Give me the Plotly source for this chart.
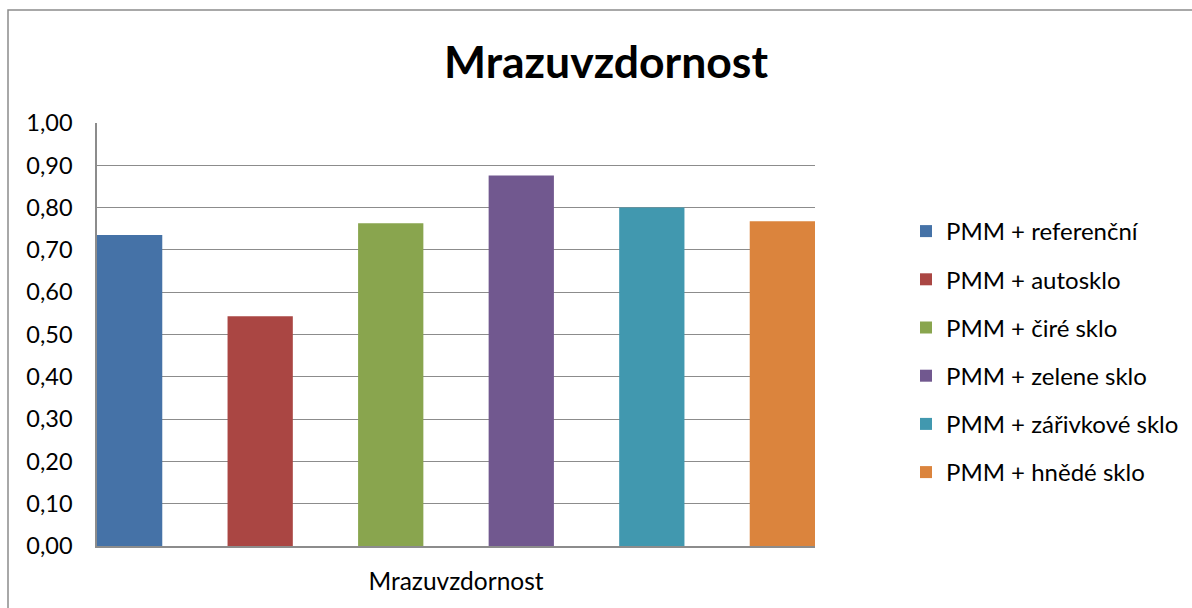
import plotly.graph_objects as go

# Data
category = ["Mrazuvzdornost"]
series_names = [
    "PMM + referenční",
    "PMM + autosklo",
    "PMM + čiré sklo",
    "PMM + zelene sklo",
    "PMM + zářivkové sklo",
    "PMM + hnědé sklo",
]
series_values = [0.735, 0.543, 0.763, 0.876, 0.800, 0.768]
series_colors = ["#4572A7", "#AA4643", "#89A54E", "#71588F", "#4198AF", "#DB843D"]
y_ticks = [0.0, 0.1, 0.2, 0.3, 0.4, 0.5, 0.6, 0.7, 0.8, 0.9, 1.0]
y_tick_labels = ["0,00", "0,10", "0,20", "0,30", "0,40", "0,50",
                 "0,60", "0,70", "0,80", "0,90", "1,00"]

FONT = "Lato, Carlito, Calibri, sans-serif"
W, H = 1192, 608
L, R, T, B = 97, 1192 - 815, 123, 608 - 546

fig = go.Figure()
for i, (name, val, col) in enumerate(zip(series_names, series_values, series_colors)):
    fig.add_trace(go.Bar(
        x=category, y=[val], name=name,
        marker=dict(color=col, line=dict(width=0)),
        legendgroup=f"g{i}",
        hovertemplate="%{y:.2f}<extra>" + name + "</extra>",
    ))

# chart frame (extends past the right and bottom edges)
pw, ph = W - L - R, H - T - B
def px_x(x): return (x - L) / pw
def px_y(y): return (H - B - y) / ph

fig.add_shape(type="rect", xref="paper", yref="paper",
              x0=px_x(8), x1=px_x(1250), y0=px_y(650), y1=px_y(10),
              line=dict(color="#8C8C8C", width=1.5), fillcolor="rgba(0,0,0,0)",
              layer="below")

fig.update_layout(
    width=W, height=H,
    margin=dict(l=L, r=R, t=T, b=B),
    paper_bgcolor="white", plot_bgcolor="white",
    barmode="group", bargap=0, bargroupgap=0.5,
    font=dict(family=FONT, size=23, color="#000000"),
    title=dict(text="<b>Mrazuvzdornost</b>", font=dict(family=FONT, size=44.5, color="#000000"),
               x=606 / W, xanchor="center", xref="container",
               y=1 - 62 / H, yanchor="middle", yref="container"),
    xaxis=dict(
        range=[-0.5 + 1 / 24, 0.5 - 1 / 24],
        showgrid=False, showline=True, linecolor="#8C8C8C", linewidth=1.5,
        ticks="", tickfont=dict(family=FONT, size=24.5, color="#000000"),
        ticklabelstandoff=13,
    ),
    yaxis=dict(
        range=[0, 1.0], tickvals=y_ticks, ticktext=y_tick_labels,
        showgrid=True, gridcolor="#8C8C8C", gridwidth=1.3,
        showline=True, linecolor="#8C8C8C", linewidth=1.5,
        zeroline=False, ticks="",
        tickfont=dict(family=FONT, size=23.5, color="#000000"),
        ticklabelstandoff=18,
    ),
    legend=dict(
        x=906 / W, xanchor="left", xref="container",
        y=1 - 352 / H, yanchor="middle", yref="container",
        font=dict(family=FONT, size=24, color="#000000"),
        tracegroupgap=14, bgcolor="rgba(0,0,0,0)",
        itemclick=False, itemdoubleclick=False,
    ),
    showlegend=True,
)

fig.write_html("out.html")
